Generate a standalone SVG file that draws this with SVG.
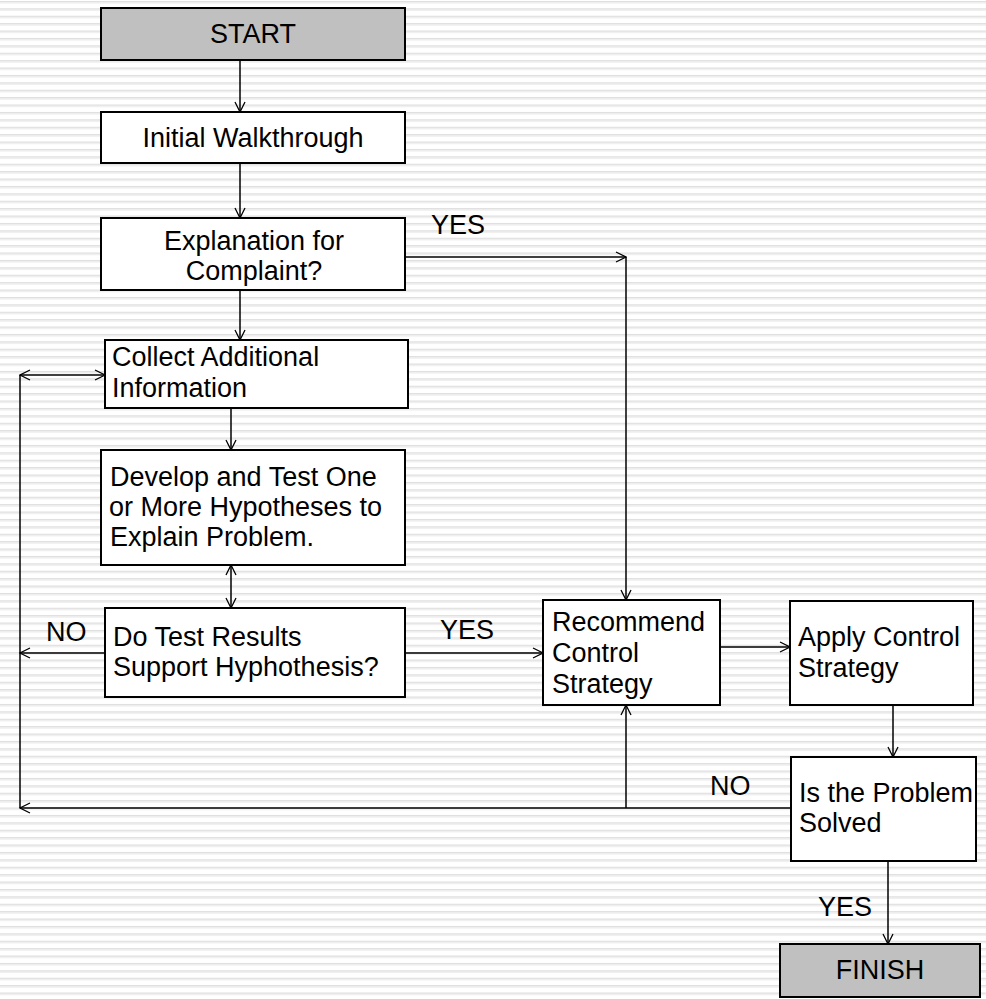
<svg xmlns="http://www.w3.org/2000/svg" width="986" height="999" viewBox="0 0 986 999">
<defs>
<pattern id="stripes" x="0" y="0" width="986" height="7.4" patternUnits="userSpaceOnUse">
<rect x="0" y="0" width="986" height="7.4" fill="#ffffff"/>
<rect x="0" y="1" width="986" height="1.2" fill="#dcdcdc"/>
<rect x="0" y="2.2" width="986" height="1.2" fill="#ebebeb"/>
</pattern>
<marker id="arr" viewBox="0 0 12 12" refX="11" refY="6" markerWidth="12" markerHeight="12" markerUnits="userSpaceOnUse" orient="auto-start-reverse">
<path d="M1,1 L11,6 L1,11" fill="none" stroke="#000" stroke-width="1.3"/>
</marker>
<style>
.box{fill:#ffffff;stroke:#000;stroke-width:2}
.term{fill:#c0c0c0;stroke:#000;stroke-width:2}
.t{font-family:"Liberation Sans",Arial,sans-serif;font-size:27px;fill:#000}
.c{text-anchor:middle}
.ln{fill:none;stroke:#000;stroke-width:1.5}
</style>
</defs>
<rect x="0" y="0" width="986" height="999" fill="url(#stripes)"/>

<g id="connectors">
<line class="ln" x1="240" y1="60" x2="240" y2="112" marker-end="url(#arr)"/>
<line class="ln" x1="240" y1="163" x2="240" y2="218" marker-end="url(#arr)"/>
<line class="ln" x1="405" y1="257" x2="626" y2="257" marker-end="url(#arr)"/>
<line class="ln" x1="626" y1="257" x2="626" y2="600" marker-end="url(#arr)"/>
<line class="ln" x1="240" y1="290" x2="240" y2="340" marker-end="url(#arr)"/>
<line class="ln" x1="20" y1="375" x2="105" y2="375" marker-start="url(#arr)" marker-end="url(#arr)"/>
<line class="ln" x1="20" y1="375" x2="20" y2="808"/>
<line class="ln" x1="231" y1="408" x2="231" y2="450" marker-end="url(#arr)"/>
<line class="ln" x1="231" y1="565" x2="231" y2="608" marker-start="url(#arr)" marker-end="url(#arr)"/>
<line class="ln" x1="105" y1="653" x2="20" y2="653" marker-end="url(#arr)"/>
<line class="ln" x1="405" y1="653" x2="543" y2="653" marker-end="url(#arr)"/>
<line class="ln" x1="720" y1="647" x2="790" y2="647" marker-end="url(#arr)"/>
<line class="ln" x1="893" y1="705" x2="893" y2="757" marker-end="url(#arr)"/>
<line class="ln" x1="791" y1="808" x2="20" y2="808" marker-end="url(#arr)"/>
<line class="ln" x1="626" y1="808" x2="626" y2="705" marker-end="url(#arr)"/>
<line class="ln" x1="888" y1="861" x2="888" y2="944" marker-end="url(#arr)"/>
<text class="t" x="431" y="234">YES</text>
<text class="t" x="46" y="641">NO</text>
<text class="t" x="440" y="639">YES</text>
<text class="t" x="710" y="795">NO</text>
<text class="t" x="818" y="916">YES</text>
</g>

<g id="start">
<rect class="term" x="101" y="8" width="304" height="52"/>
<text class="t c" x="253" y="43">START</text>
</g>
<g id="initial">
<rect class="box" x="101" y="112" width="304" height="51"/>
<text class="t c" x="253" y="147">Initial Walkthrough</text>
</g>
<g id="explanation">
<rect class="box" x="101" y="218" width="304" height="72"/>
<text class="t c" x="254" y="250">Explanation for</text>
<text class="t c" x="254" y="280">Complaint?</text>
</g>
<g id="collect">
<rect class="box" x="105" y="340" width="303" height="68"/>
<text class="t" x="112" y="366">Collect Additional</text>
<text class="t" x="112" y="397">Information</text>
</g>
<g id="develop">
<rect class="box" x="101" y="450" width="304" height="115"/>
<text class="t" x="110" y="486">Develop and Test One</text>
<text class="t" x="109" y="516">or More Hypotheses to</text>
<text class="t" x="110" y="546">Explain Problem.</text>
</g>
<g id="dotest">
<rect class="box" x="105" y="608" width="300" height="89"/>
<text class="t" x="113" y="646">Do Test Results</text>
<text class="t" x="113" y="676">Support Hyphothesis?</text>
</g>
<g id="recommend">
<rect class="box" x="543" y="600" width="177" height="105"/>
<text class="t" x="552" y="631">Recommend</text>
<text class="t" x="552" y="662">Control</text>
<text class="t" x="552" y="693">Strategy</text>
</g>
<g id="apply">
<rect class="box" x="790" y="601" width="183" height="104"/>
<text class="t" x="798" y="646">Apply Control</text>
<text class="t" x="798" y="677">Strategy</text>
</g>
<g id="solved">
<rect class="box" x="791" y="757" width="185" height="104"/>
<text class="t" x="799" y="802">Is the Problem</text>
<text class="t" x="799" y="832">Solved</text>
</g>
<g id="finish">
<rect class="term" x="780" y="944" width="200" height="53"/>
<text class="t c" x="880" y="979">FINISH</text>
</g>
</svg>
